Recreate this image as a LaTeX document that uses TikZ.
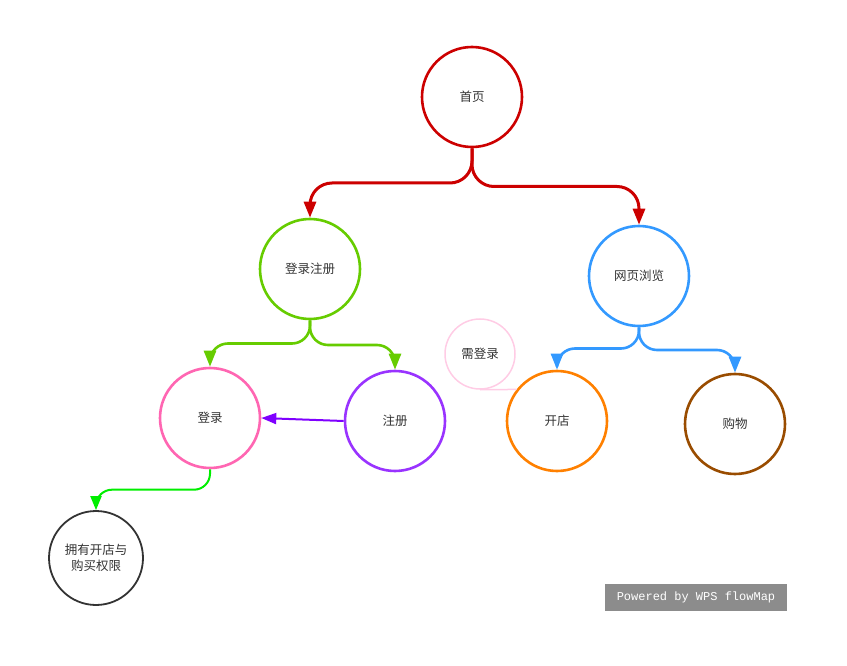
\documentclass[tikz,border=0pt]{standalone}
\usepackage{fontspec}
\setmainfont{Noto Sans CJK SC}
\newfontfamily\wpsmono{Liberation Mono}
\usetikzlibrary{arrows.meta,calc}

\definecolor{homered}{HTML}{CC0000}
\definecolor{leafgreen}{HTML}{66CC00}
\definecolor{skyblue}{HTML}{3399FF}
\definecolor{rosepink}{HTML}{FF66B2}
\definecolor{violet}{HTML}{9933FF}
\definecolor{arrowviolet}{HTML}{7F00FF}
\definecolor{paleping}{HTML}{FFCCE5}
\definecolor{shoporange}{HTML}{FF8000}
\definecolor{buybrown}{HTML}{994C00}
\definecolor{limegreen}{HTML}{00EE00}
\definecolor{inkgray}{HTML}{333333}

\tikzset{
    bub/.style={circle,draw,line width=2.6pt,minimum size=100pt,inner sep=0pt,
        text=inkgray,font=\fontsize{12.5}{15.5}\selectfont,align=center},
    elbow/.style={rounded corners=22pt,
        -{Triangle[length=16pt,width=12pt]}},
}

\begin{document}
\begin{tikzpicture}[x=1pt,y=-1pt]
        \useasboundingbox (0,0) rectangle (847,666);

        \node[bub,draw=homered] (home) at (472,97) {首页};
        \node[bub,draw=leafgreen] (account) at (310,269) {登录注册};
        \node[bub,draw=skyblue] (browse) at (639,276) {网页浏览};
        \node[bub,draw=rosepink] (login) at (210,418) {登录};
        \node[bub,draw=violet] (signup) at (395,421) {注册};
        \node[bub,draw=shoporange] (openshop) at (557,421) {开店};
        \node[bub,draw=buybrown] (buy) at (735,424) {购物};
        \node[bub,draw=paleping,line width=1.5pt,minimum size=70pt] (needlogin) at (480,354) {需登录};
        \node[bub,draw=inkgray,line width=1.8pt,minimum size=94pt] (rights) at (96,558) {拥有开店与\\购买权限};

        % tree links
        \draw[elbow,homered,line width=3pt] (home.south) |- ($(home.south)!0.5!(account.north)$) -| (account.north);
        \draw[elbow,homered,line width=3pt] (home.south) |- ($(home.south)!0.5!(browse.north)$) -| (browse.north);
        \draw[elbow,leafgreen,line width=2.6pt,rounded corners=18pt] (account.south) |- ($(account.south)!0.5!(login.north)$) -| (login.north);
        \draw[elbow,leafgreen,line width=2.6pt,rounded corners=18pt] (account.south) |- ($(account.south)!0.5!(signup.north)$) -| (signup.north);
        \draw[elbow,skyblue,line width=2.6pt,rounded corners=18pt] (browse.south) |- ($(browse.south)!0.5!(openshop.north)$) -| (openshop.north);
        \draw[elbow,skyblue,line width=2.6pt,rounded corners=18pt] (browse.south) |- ($(browse.south)!0.5!(buy.north)$) -| (buy.north);
        \draw[elbow,limegreen,line width=2pt,rounded corners=16pt,-{Triangle[length=14pt,width=11pt]}] (login.south) |- ($(login.south)!0.5!(rights.north)$) -| (rights.north);

        % side links
        \draw[arrowviolet,line width=2pt,-{Triangle[length=15pt,width=11pt]}] (signup.west) -- (login.east);
        \draw[paleping,line width=1.5pt] (needlogin.south) -- (openshop.142);

        \node[fill=gray!90!white,text=white,font=\wpsmono\fontsize{12}{14}\selectfont,
              minimum width=182pt,minimum height=27pt,inner sep=0pt] (powered) at (696,597.5) {Powered by WPS flowMap};
    \end{tikzpicture}
\end{document}
